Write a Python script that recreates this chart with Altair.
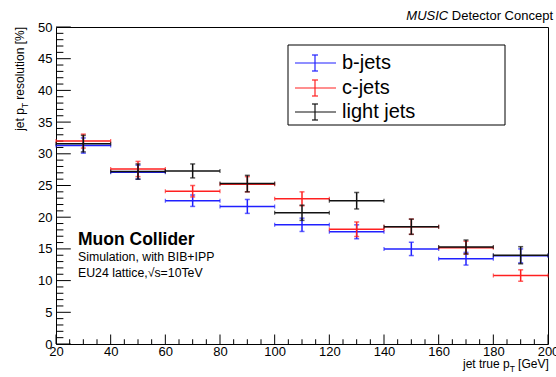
import altair as alt
import pandas as pd

# ---------------- data ----------------
bin_lo = [20, 40, 60, 80, 100, 120, 140, 160, 180]
bin_hi = [40, 60, 80, 100, 120, 140, 160, 180, 200]
bin_c = [30, 50, 70, 90, 110, 130, 150, 170, 190]

b_jets = [31.3, 27.1, 22.6, 21.7, 18.8, 17.7, 15.0, 13.45, 13.9]
b_err = [1.2, 1.1, 0.9, 1.1, 1.05, 1.1, 1.05, 1.0, 1.1]
c_jets = [32.0, 27.6, 24.1, 25.2, 22.9, 18.1, 18.5, 15.2, 10.8]
c_err = [1.1, 1.2, 0.9, 1.2, 1.1, 1.15, 1.2, 1.0, 0.9]
l_jets = [31.6, 27.2, 27.3, 25.3, 20.7, 22.6, 18.5, 15.3, 14.0]
l_err = [1.3, 1.2, 1.1, 1.3, 1.2, 1.3, 1.2, 1.1, 1.35]

series_names = ["b-jets", "c-jets", "light jets"]
series_vals = [b_jets, c_jets, l_jets]
series_errs = [b_err, c_err, l_err]
series_cols = ["#2020ff", "#ff2020", "#111111"]

x_major = [20, 40, 60, 80, 100, 120, 140, 160, 180, 200]
x_minor = [v for v in range(20, 201, 5) if v % 20 != 0]
y_major = [0, 5, 10, 15, 20, 25, 30, 35, 40, 45, 50]
y_minor = [v for v in range(0, 51) if v % 5 != 0]

W, H = 492, 317
FONT = "Liberation Sans"

xs = alt.Scale(domain=[20, 200], nice=False, zero=False)
ys = alt.Scale(domain=[0, 50], nice=False, zero=False)
xax = alt.Axis(values=x_major, ticks=False, domain=False, grid=False, title=None,
               labelFont=FONT, labelFontSize=13, labelColor="black", labelPadding=1,
               labelFlush=False, labelOverlap=False)
yax = alt.Axis(values=y_major, ticks=False, domain=False, grid=False, title=None,
               labelFont=FONT, labelFontSize=13, labelColor="black", labelPadding=4,
               labelOverlap=False)

layers = []

# tick marks drawn inside the frame (ROOT style)
xt_major = pd.DataFrame({"v": x_major})
xt_minor = pd.DataFrame({"v": x_minor})
yt_major = pd.DataFrame({"v": y_major})
yt_minor = pd.DataFrame({"v": y_minor})

layers.append(alt.Chart(xt_major).mark_rule(color="black", strokeWidth=1).encode(
    x=alt.X("v:Q", scale=xs, axis=xax), y=alt.value(H), y2=alt.value(H - 9.5)))
layers.append(alt.Chart(xt_minor).mark_rule(color="black", strokeWidth=1).encode(
    x=alt.X("v:Q", scale=xs, axis=xax), y=alt.value(H), y2=alt.value(H - 4.75)))
layers.append(alt.Chart(yt_major).mark_rule(color="black", strokeWidth=1).encode(
    y=alt.Y("v:Q", scale=ys, axis=yax), x=alt.value(0), x2=alt.value(14.8)))
layers.append(alt.Chart(yt_minor).mark_rule(color="black", strokeWidth=1).encode(
    y=alt.Y("v:Q", scale=ys, axis=yax), x=alt.value(0), x2=alt.value(7.4)))

# data series
for name, vals, errs, col in zip(series_names, series_vals, series_errs, series_cols):
    df = pd.DataFrame({
        "xlo": bin_lo, "xhi": bin_hi, "x": bin_c, "y": vals,
        "ylo": [v - e for v, e in zip(vals, errs)],
        "yhi": [v + e for v, e in zip(vals, errs)],
        "series": name,
    })
    base = alt.Chart(df)
    layers.append(base.mark_rule(color=col, strokeWidth=1.5).encode(
        x=alt.X("xlo:Q", scale=xs, axis=xax), x2="xhi:Q",
        y=alt.Y("y:Q", scale=ys, axis=yax)))
    layers.append(base.mark_rule(color=col, strokeWidth=1.5).encode(
        x=alt.X("x:Q", scale=xs, axis=xax),
        y=alt.Y("ylo:Q", scale=ys, axis=yax), y2="yhi:Q"))
    for f in ["ylo", "yhi"]:
        layers.append(base.mark_tick(color=col, orient="horizontal", size=5, thickness=1.5).encode(
            x=alt.X("x:Q", scale=xs, axis=xax), y=alt.Y(f + ":Q", scale=ys, axis=yax)))
    for f in ["xlo", "xhi"]:
        layers.append(base.mark_tick(color=col, orient="vertical", size=4, thickness=1.2).encode(
            x=alt.X(f + ":Q", scale=xs, axis=xax), y=alt.Y("y:Q", scale=ys, axis=yax)))

one = pd.DataFrame({"a": [0]})


def txt(s, x, y, size, align="left", baseline="alphabetic", style="normal",
        weight="normal", angle=0):
    return alt.Chart(one).mark_text(
        text=s, font=FONT, fontSize=size, align=align, baseline=baseline,
        fontStyle=style, fontWeight=weight, angle=angle, color="black"
    ).encode(x=alt.value(x), y=alt.value(y))


# legend box (screen coords minus plot origin 56,27)
OX, OY = 56, 27
layers.append(alt.Chart(one).mark_rect(fill="white", stroke="black", strokeWidth=1).encode(
    x=alt.value(288 - OX), x2=alt.value(505 - OX), y=alt.value(45 - OY), y2=alt.value(125 - OY)))
leg_y = [63, 88, 112]
for name, col, ly in zip(series_names, series_cols, leg_y):
    layers.append(alt.Chart(one).mark_rule(color=col, strokeWidth=1.2).encode(
        x=alt.value(295 - OX), x2=alt.value(336 - OX), y=alt.value(ly - OY)))
    layers.append(alt.Chart(one).mark_rule(color=col, strokeWidth=1.2).encode(
        x=alt.value(315 - OX), y=alt.value(ly - 8 - OY), y2=alt.value(ly + 8 - OY)))
    for dy in (-8, 8):
        layers.append(alt.Chart(one).mark_rule(color=col, strokeWidth=1.2).encode(
            x=alt.value(312 - OX), x2=alt.value(318 - OX), y=alt.value(ly + dy - OY)))
    layers.append(txt(name, 342 - OX, ly - OY, 20, baseline="middle"))

# annotations
layers.append(txt("Muon Collider", 78 - OX, 245 - OY, 17.5, weight="bold"))
layers.append(txt("Simulation, with BIB+IPP", 78 - OX, 261 - OY, 12.3))
layers.append(txt("EU24 lattice,√s=10TeV", 78 - OX, 277 - OY, 12.3))

# top-right title
layers.append(txt("Detector Concept", 553 - OX, 20 - OY, 13, align="right"))
layers.append(txt("MUSIC", 553 - OX - 104.8, 20 - OY, 13, align="right", style="italic"))

# x axis title: "jet true p_T [GeV]"
xt0 = 407
layers.append(txt("jet true p", xt0, 341, 12))
layers.append(txt("T", xt0 + 46.7, 345, 8.5))
layers.append(txt("[GeV]", xt0 + 46.7 + 5.1 + 3.3, 341, 12))

# y axis title (rotated): "jet p_T resolution [%]"
yx = -32
yt0 = 103.8
layers.append(txt("jet p", yx, yt0, 12, angle=270))
layers.append(txt("T", yx + 3.5, yt0 - 22.7, 8.5, angle=270))
layers.append(txt("resolution [%]", yx, yt0 - 22.7 - 5.1 - 3.3, 12, angle=270))

chart = alt.layer(*layers).properties(
    width=W, height=H,
    autosize=alt.AutoSizeParams(type="none"),
    padding={"left": 56, "top": 27, "right": 8, "bottom": 33},
    background="white",
).configure_view(stroke="black", strokeWidth=1)

chart.save("out.html", embed_options={"renderer": "svg", "actions": False})
